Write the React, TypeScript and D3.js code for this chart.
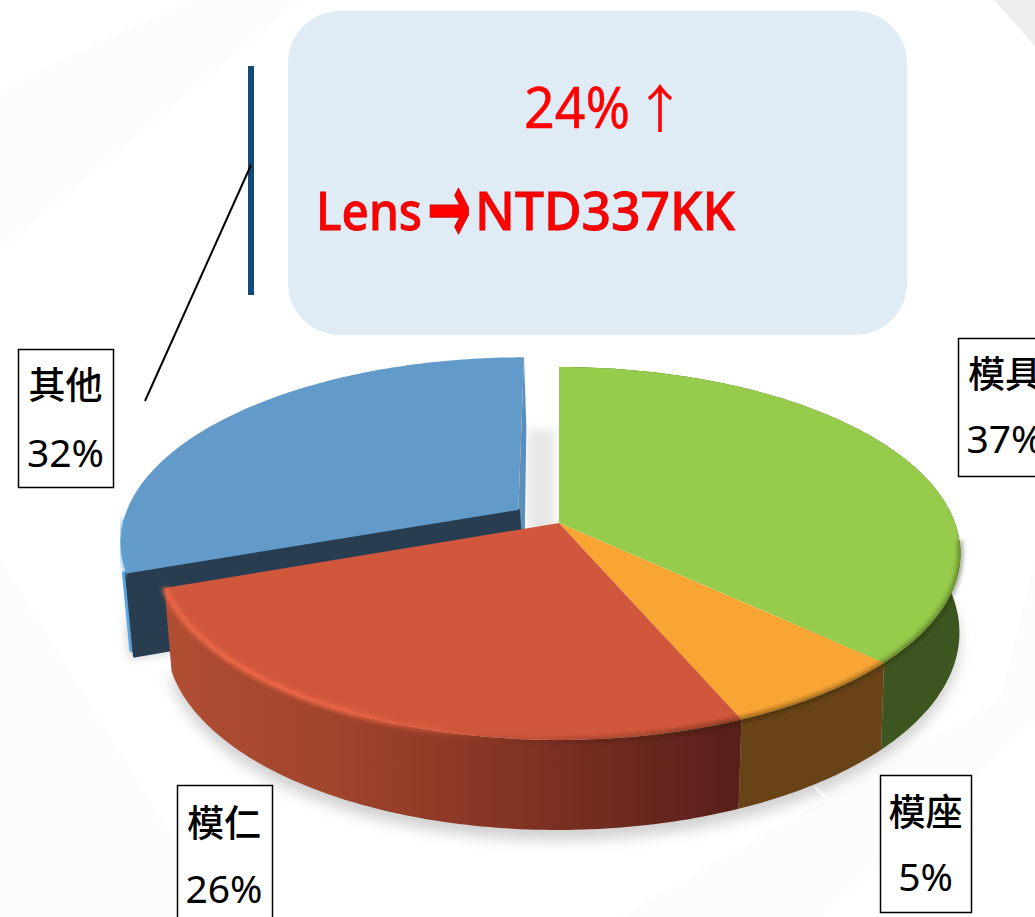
import React from "react";
import * as d3 from "d3";

const categories = ["模具", "模座", "模仁", "其他"];
const labelValues = ["37%", "5%", "26%", "32%"];
const sliceShares = [37, 6.6, 25.9, 30.5];
const topColors = ["#97CB4B", "#F8A534", "#D0573C", "#629BC9"];
const sideColors = ["#3D5620", "#684316", "#7A3020", "#5AA5E0"];
const callout = ["24%", "↑", "Lens", "→", "NTD337KK"];

const W = 1035, H = 917;
const CX = 559, CY = 523, A = 181.5, B = 396, K = 0.1635;

const project = (u: number, v: number, z = 0): [number, number] => {
  const d = 1 + K * v;
  const shift = (4.67 - 4.72 * u + 6.2 * v) * (v > 0.5 ? 0.2 : 1);
  return [CX + (B * u) / d + z * shift, CY - (A * v) / d + z * (80 - 10 * v)];
};
const line = d3.line<[number, number]>().x(p => p[0]).y(p => p[1]);
const arcs = d3.pie<number>().sort(null)(sliceShares);
const explode = 0.127;

function rim(a0: number, a1: number, z: number, ou: number, ov: number) {
  const n = Math.max(2, Math.ceil(Math.abs(a1 - a0) * 60));
  return d3.range(n + 1).map(i => {
    const a = a0 + ((a1 - a0) * i) / n;
    return project(ou + Math.sin(a), ov + Math.cos(a), z);
  });
}
function topPath(a0: number, a1: number, ou: number, ov: number) {
  return line([project(ou, ov), ...rim(a0, a1, 0, ou, ov)])! + "Z";
}
function wallPath(a0: number, a1: number, ou: number, ov: number) {
  return line([...rim(a0, a1, 0, ou, ov), ...rim(a1, a0, 1, ou, ov)])! + "Z";
}
function facePath(a: number, ou: number, ov: number) {
  return line([
    project(ou, ov),
    project(ou + Math.sin(a), ov + Math.cos(a)),
    project(ou + Math.sin(a), ov + Math.cos(a), 1),
    project(ou, ov, 1),
  ])! + "Z";
}

const labels = [
  { x: 18, y: 349, w: 95, h: 138, i: 3, ny: 386, vy: 453, tx: 65.5 },
  { x: 958, y: 338, w: 95, h: 138, i: 0, ny: 375, vy: 439, tx: 1005 },
  { x: 177, y: 785, w: 95, h: 138, i: 2, ny: 824, vy: 889, tx: 224 },
  { x: 880, y: 775, w: 91, h: 137, i: 1, ny: 813, vy: 877, tx: 925.5 },
];
const CJK = "'Noto Sans CJK TC','Noto Sans',sans-serif";
const LATIN = "'Noto Sans','Open Sans',sans-serif";

export default function App() {
  const blue = arcs[3];
  const mid = (blue.startAngle + blue.endAngle) / 2;
  const ou = explode * Math.sin(mid);
  const ov = explode * Math.cos(mid);
  const frontRim = line(rim(Math.PI * 0.53, arcs[2].endAngle, 0, 0, 0))!;
  const corner = (z: number) => project(ou + Math.sin(blue.startAngle), ov + Math.cos(blue.startAngle), z);
  return (
    <svg width={W} height={H} viewBox={`0 0 ${W} ${H}`} style={{ position: "absolute", left: 0, top: 0, background: "#fff" }}>
      <defs>
        <filter id="blur12" x="-20%" y="-20%" width="140%" height="140%"><feGaussianBlur stdDeviation="7" /></filter>
        <filter id="blur4" x="-50%" y="-20%" width="200%" height="140%"><feGaussianBlur stdDeviation="4" /></filter>
        <filter id="blur2" x="-10%" y="-30%" width="120%" height="160%"><feGaussianBlur stdDeviation="2" /></filter>
        <linearGradient id="redSide" gradientUnits="userSpaceOnUse" x1="165" x2="738" y1="0" y2="0">
          <stop offset="0" stopColor="#B04E33" />
          <stop offset="0.3" stopColor="#A0442C" />
          <stop offset="0.65" stopColor="#7F3122" />
          <stop offset="1" stopColor="#57201A" />
        </linearGradient>
        <linearGradient id="rimShade" gradientUnits="userSpaceOnUse" x1="165" x2="960" y1="0" y2="0">
          <stop offset="0" stopColor="#F4694A" stopOpacity="1" />
          <stop offset="0.22" stopColor="#F4694A" stopOpacity="0.95" />
          <stop offset="0.36" stopColor="#E8623F" stopOpacity="0.35" />
          <stop offset="0.46" stopColor="#2A120A" stopOpacity="0.1" />
          <stop offset="0.7" stopColor="#2A1A08" stopOpacity="0.5" />
          <stop offset="1" stopColor="#1A2A08" stopOpacity="0.45" />
        </linearGradient>
      </defs>

      <rect width={W} height={H} fill="#fff" />
      <g fill="#FCFCFC">
        <polygon points="0,90 190,0 300,0 0,250" />
        <polygon points="0,560 220,917 0,917" />
        <polygon points="1035,560 1000,700 620,917 820,917 1035,720" />
      </g>
      <polygon points="994,0 1035,0 1035,46" fill="#EEEEEE" />

      <path d={line(rim(Math.PI * 0.5, Math.PI * 1.4, 1, 0, 0))! + "Z"} transform="translate(0,10)" fill="#8a8a8a" opacity={0.4} filter="url(#blur12)" />
      <path d={line([...rim(blue.startAngle, blue.startAngle + 0.5, 1, ou, ov), project(ou, ov, 1)])! + "Z"} transform="translate(-4,4)" fill="#888" opacity={0.3} filter="url(#blur4)" />
      <rect x={527} y={430} width={28} height={110} fill="#bbb" opacity={0.35} filter="url(#blur4)" />

      <path d={facePath(blue.endAngle, ou, ov)} fill="#5B8FB9" />
      <path d={wallPath(blue.startAngle, blue.startAngle + 0.3, ou, ov)} fill={sideColors[3]} />
      <path d={line([corner(0), corner(0.92)])!} transform="translate(-2,0)" fill="none" stroke={sideColors[3]} strokeWidth={5} strokeLinecap="round" />
      <path d={facePath(blue.startAngle, ou, ov)} fill="#283E50" stroke="#283E50" strokeWidth={3} strokeLinejoin="round" />
      <path d={topPath(blue.startAngle, blue.endAngle, ou, ov)} fill={topColors[3]} />
      <path d={line(rim(blue.startAngle - 0.01, blue.startAngle + 0.3, 0, ou, ov))!} fill="none" stroke={sideColors[3]} strokeWidth={2.5} filter="url(#blur2)" />

      {arcs.slice(0, 3).map((a, i) => (
        <path key={categories[i]} d={wallPath(a.startAngle, a.endAngle, 0, 0)} fill={i === 2 ? "url(#redSide)" : sideColors[i]} />
      ))}
      {arcs.slice(0, 3).map((a, i) => (
        <path key={categories[i]} d={topPath(a.startAngle, a.endAngle, 0, 0)} fill={topColors[i]} />
      ))}
      <path d={frontRim} fill="none" stroke="url(#rimShade)" strokeWidth={5} filter="url(#blur2)" />
      <line x1={815} y1={787} x2={825} y2={797} stroke="#fff" strokeWidth={1.5} />

      <rect x={288} y={11} width={619} height={324} rx={52} fill="#DFEBF5" />
      <rect x={248} y={66} width={6} height={229} fill="#154A77" />
      <line x1={145} y1={401} x2={251} y2={165} stroke="#000" strokeWidth={2} />

      <text x={524} y={128} fontFamily={LATIN} fontSize={57} fill="#FF0000" stroke="#FF0000" strokeWidth={0.4} textLength={106} lengthAdjust="spacingAndGlyphs">{callout[0]}</text>
      <text x={660} y={128} textAnchor="middle" fontFamily={CJK} fontSize={52} fill="#FF0000">{callout[1]}</text>
      <g fontSize={52} fontWeight={500} fill="#FF0000" stroke="#E00000" strokeWidth={0.8} fontFamily={LATIN}>
        <text x={316} y={230} textLength={106} lengthAdjust="spacingAndGlyphs">{callout[2]}</text>
        <text transform="translate(427,243) scale(1,1.8)" fontFamily="'DejaVu Sans',sans-serif" fontWeight={700} fontSize={56} textLength={44} lengthAdjust="spacingAndGlyphs">{callout[3]}</text>
        <text x={475} y={230} textLength={260} lengthAdjust="spacingAndGlyphs">{callout[4]}</text>
      </g>

      {labels.map(l => (
        <g key={categories[l.i]}>
          <rect x={l.x + 0.5} y={l.y + 0.5} width={l.w} height={l.h} fill="#fff" stroke="#000" strokeWidth={1.5} />
          <text x={l.tx} y={l.ny} dy="0.36em" textAnchor="middle" fontFamily={CJK} fontSize={37} fontWeight={500} fill="#000">{categories[l.i]}</text>
          <text x={l.tx} y={l.vy} dy="0.36em" textAnchor="middle" fontFamily={LATIN} fontSize={39} fill="#000">{labelValues[l.i]}</text>
        </g>
      ))}
    </svg>
  );
}
